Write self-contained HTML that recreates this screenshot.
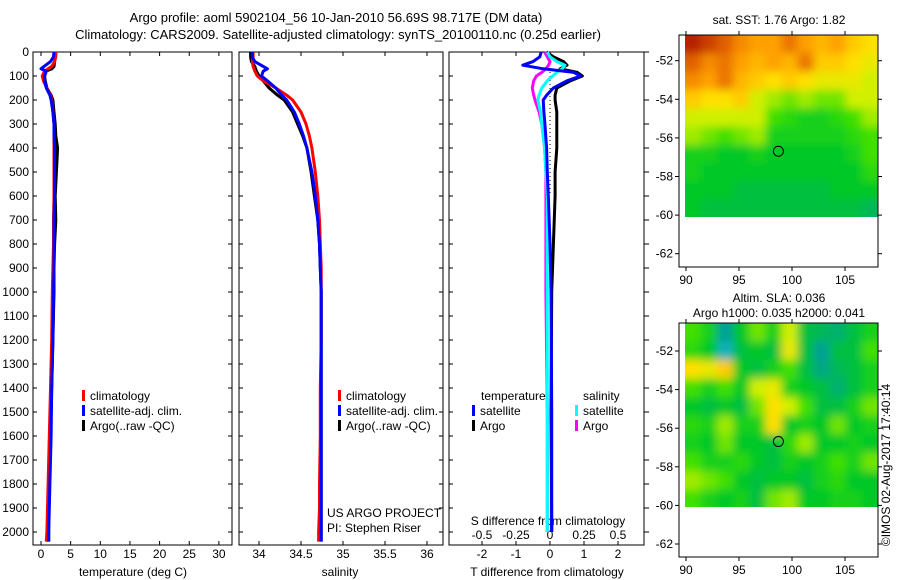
<!DOCTYPE html>
<html><head><meta charset="utf-8"><style>
body{margin:0;background:#fff;}
svg{display:block;font-family:"Liberation Sans",sans-serif;}
</style></head><body>
<svg id="c" width="900" height="580" viewBox="0 0 900 580">
<defs>
<filter id="blur" x="-0.2" y="-0.2" width="1.4" height="1.4"><feGaussianBlur stdDeviation="4.5"/></filter>
<clipPath id="clipSst"><rect x="685" y="35" width="193" height="182"/></clipPath>
<clipPath id="clipSla"><rect x="685" y="323" width="193" height="184"/></clipPath>
</defs>
</svg>
<script>
// ---- data ----
const depthsP = [0,20,40,60,70,80,100,120,150,180,200,250,300,350,400,500,600,700,800,900,1000,1200,1400,1600,1800,1900,2000,2040];
const tempClim = [2.5,2.5,2.3,1.8,1.2,0.6,0.2,0.4,1.0,1.6,1.8,2.0,2.2,2.2,2.2,2.2,2.2,2.1,2.1,2.0,1.9,1.8,1.6,1.4,1.2,1.1,1.0,0.9];
const tempSat = [2.2,2.1,1.6,0.5,0.0,0.9,0.6,0.6,0.9,1.5,1.7,2.0,2.2,2.2,2.3,2.3,2.3,2.2,2.2,2.2,2.1,2.0,1.8,1.7,1.5,1.4,1.3,1.3];
const tempArgo = [2.5,2.4,2.3,2.2,1.8,0.8,0.6,0.7,1.0,1.7,2.0,2.2,2.4,2.5,2.8,2.6,2.4,2.5,2.3,2.2,2.2,2.0,1.8,1.6,1.4,1.3,1.3,1.3];
const salClim = [33.93,33.93,33.92,33.93,33.94,33.95,33.98,34.05,34.2,34.33,34.4,34.5,34.56,34.6,34.63,34.67,34.7,34.72,34.73,34.74,34.74,34.74,34.73,34.73,34.72,34.72,34.71,34.71];
const salSat = [33.92,33.92,33.95,34.05,34.1,34.05,34.03,34.1,34.2,34.27,34.33,34.42,34.48,34.53,34.57,34.63,34.67,34.7,34.72,34.73,34.74,34.74,34.74,34.74,34.74,34.74,34.74,34.74];
const salArgo = [33.9,33.9,33.91,33.95,33.96,33.97,34.0,34.05,34.12,34.22,34.3,34.4,34.46,34.52,34.57,34.62,34.66,34.7,34.72,34.73,34.74,34.74,34.74,34.74,34.74,34.74,34.74,34.74];
const depthsD = [0,20,40,55,70,85,100,120,150,180,200,250,300,400,500,600,800,1000,1500,2000];
const tDiffSat = [-0.26,-0.3,-0.5,-0.8,-0.2,0.7,0.9,0.5,0.1,-0.1,-0.2,-0.18,-0.15,-0.1,-0.08,-0.05,0.0,0.03,0.05,0.05];
const tDiffArgo = [-0.1,0.1,0.4,0.5,0.3,0.8,0.95,0.6,0.2,0.15,0.15,0.2,0.2,0.2,0.15,0.15,0.1,0.05,0.03,0.05];
const sDiffSat = [-0.02,0.0,0.05,0.11,0.09,0.05,0.02,-0.02,-0.06,-0.08,-0.09,-0.07,-0.06,-0.04,-0.03,-0.02,-0.02,-0.02,-0.02,-0.02];
const sDiffArgo = [-0.04,-0.02,0.0,-0.01,-0.03,-0.06,-0.1,-0.12,-0.13,-0.12,-0.11,-0.08,-0.06,-0.04,-0.03,-0.03,-0.03,-0.03,-0.02,-0.02];
const depthTicks = [0,100,200,300,400,500,600,700,800,900,1000,1100,1200,1300,1400,1500,1600,1700,1800,1900,2000];
const tempTicks = [0,5,10,15,20,25,30];
const salTicks = [34,34.5,35,35.5,36];
const salTickLabels = ["34","34.5","35","35.5","36"];
const tdTicks = [-2,-1,0,1,2];
const sdTicks = [-0.5,-0.25,0,0.25,0.5];
const sdTickLabels = ["-0.5","-0.25","0","0.25","0.5"];
const latTicks = [-52,-54,-56,-58,-60,-62];
const lonTicks = [90,95,100,105];
const sstGrid = [
[.95,.9,.85,.75,.7,.7,.8,.7,.65,.7,.6,.55],
[.85,.75,.8,.7,.65,.7,.65,.8,.6,.6,.55,.5],
[.75,.7,.8,.65,.6,.55,.6,.55,.5,.5,.5,.45],
[.6,.55,.55,.6,.45,.4,.35,.4,.35,.35,.45,.45],
[.45,.45,.45,.45,.45,.3,.25,.2,.2,.25,.3,.4],
[.4,.35,.3,.35,.4,.2,.2,.2,.2,.2,.25,.3],
[.2,.2,.15,.15,.2,.15,.15,.15,.15,.15,.2,.3],
[.2,.15,.15,.15,.15,.15,.15,.15,.15,.15,.15,.25],
[.15,.15,.15,.1,.1,.1,.1,.1,.1,.15,.15,.15],
[.15,.1,.1,.1,.1,.1,.1,.1,.1,.1,.1,.05]];
const slaGrid = [
[.3,.2,-.1,.15,.35,.2,.45,.1,.05,0,.1,.2],
[.25,.15,-.15,.1,.15,.1,.5,.1,-.1,.1,.1,.3],
[.55,.5,.6,.15,.1,.2,.3,.1,-.05,.05,.1,.2],
[.3,.2,.3,.15,.45,.5,.2,.15,.1,0,.1,.2],
[.15,.1,.15,.1,.35,.55,.45,.3,.1,.1,.2,.35],
[.25,.2,.4,.2,.2,.55,.15,.2,.15,.35,.15,.2],
[.2,.15,.35,.15,.15,.1,.25,.4,.15,.15,.2,.15],
[.3,.2,.2,.25,.15,.1,.2,.15,.2,.3,.2,.35],
[.4,.35,.3,.15,.1,.15,.15,.1,.2,.25,.15,.15],
[.3,.2,.15,.2,.1,.35,.4,.15,.15,.2,.2,.15]];
const argoLon = 98.717, argoLat = -56.69;

const NS="http://www.w3.org/2000/svg", svg=document.getElementById('c');
function mk(tag, at, parent){const e=document.createElementNS(NS,tag);for(const k in at)e.setAttribute(k,at[k]);(parent||svg).appendChild(e);return e;}
function txt(s,x,y,anchor,size){const t=mk('text',{x:x,y:y,'text-anchor':anchor||'middle','font-size':size||12,fill:'#000'});t.textContent=s;return t;}

const Y0=52, YS=0.24; const yD=d=>Y0+d*YS;
const xT=v=>41+v*5.93, xS=v=>259+(v-34)*84, xTD=v=>550+v*34, xSD=v=>550+v*136;
const panels=[{l:33,r:232,n:'temperature-panel'},{l:239,r:443,n:'salinity-panel'},{l:449,r:644,n:'difference-panel'}];
const BOT=545;

let t;
t=txt("Argo profile: aoml 5902104_56 10-Jan-2010 56.69S 98.717E (DM data)",336,22,'middle',13);

t=txt("Climatology: CARS2009. Satellite-adjusted climatology: synTS_20100110.nc (0.25d earlier)",338,39,'middle',13);


panels.forEach((p,i)=>{
  const g=mk('g',{});
  
  
  const r=mk('rect',{x:p.l,y:Y0,width:p.r-p.l,height:BOT-Y0,fill:'none',stroke:'#000','stroke-width':1},g);
  
  
  depthTicks.forEach(d=>{
    mk('line',{x1:p.l,x2:p.l+4,y1:yD(d),y2:yD(d),stroke:'#000'},g);
    if(i<2) mk('line',{x1:p.r,x2:p.r-4,y1:yD(d),y2:yD(d),stroke:'#000'},g);
    else mk('line',{x1:p.r,x2:p.r+5,y1:yD(d),y2:yD(d),stroke:'#000'},g);
  });
});
depthTicks.forEach(d=>{const e=txt(String(d),29,yD(d)+4,'end',12);
  });

function xticks(ticks,labels,fx,ylab){
  ticks.forEach((v,k)=>{
    const x=fx(v);
    mk('line',{x1:x,x2:x,y1:BOT,y2:BOT-4,stroke:'#000'});
    mk('line',{x1:x,x2:x,y1:Y0,y2:Y0+4,stroke:'#000'});
    const e=txt(labels[k],x,ylab,'middle',12);
    
    
  });
}
xticks(tempTicks,tempTicks.map(String),xT,558);
xticks(salTicks,salTickLabels,xS,558);
xticks(tdTicks,tdTicks.map(String),xTD,558);
sdTicks.forEach((v,k)=>{const e=txt(sdTickLabels[k],xSD(v),539,'middle',12);
  });
[["temperature (deg C)",133,'x-axis-title-temperature'],["salinity",340,'x-axis-title-salinity'],["T difference from climatology",547,'x-axis-title-t-diff']].forEach(a=>{
  const e=txt(a[0],a[1],576,'middle',12);});
t=txt("S difference from climatology",548,525,'middle',12);


function series(vals,depths,fx,color,w,name){
  const pts=vals.map((v,k)=>fx(v).toFixed(1)+','+yD(depths[k]).toFixed(1)).join(' ');
  const e=mk('polyline',{points:pts,fill:'none',stroke:color,'stroke-width':w,'stroke-linejoin':'round'});
  
  
}
const z=mk('line',{x1:xTD(0),x2:xTD(0),y1:Y0,y2:yD(600),stroke:'#000','stroke-width':1,'stroke-dasharray':'1,3'});


series(tempArgo,depthsP,xT,'#000',3,'temp-argo-line');
series(tempClim,depthsP,xT,'#f00',3,'temp-climatology-line');
series(tempSat,depthsP,xT,'#00f',3,'temp-satellite-line');
series(salArgo,depthsP,xS,'#000',3,'sal-argo-line');
series(salClim,depthsP,xS,'#f00',3,'sal-climatology-line');
series(salSat,depthsP,xS,'#00f',3,'sal-satellite-line');
series(tDiffArgo,depthsD,xTD,'#000',3,'t-diff-argo-line');
series(sDiffArgo,depthsD,xSD,'#f0f',3,'s-diff-argo-line');
series(sDiffSat,depthsD,xSD,'#0ff',3,'s-diff-satellite-line');
series(tDiffSat,depthsD,xTD,'#00f',3,'t-diff-satellite-line');

function legendEntry(x,y,color,label,name){
  const g=mk('g',{});
  
  
  mk('rect',{x:x,y:y-9,width:3,height:11,fill:color},g);
  const e=mk('text',{x:x+8,y:y+1,'font-size':12},g);e.textContent=label;
}
[82,338].forEach(x=>{
  legendEntry(x,399,'#f00','climatology','legend-climatology');
  legendEntry(x,414,'#00f','satellite-adj. clim.','legend-satellite-adj');
  legendEntry(x,429,'#000','Argo(..raw -QC)','legend-argo');
});
t=txt("temperature",481,400,'start',12);
t=txt("salinity",583,400,'start',12);
legendEntry(472,414,'#00f','satellite','legend-t-satellite');
legendEntry(472,429,'#000','Argo','legend-t-argo');
legendEntry(575,414,'#0ff','satellite','legend-s-satellite');
legendEntry(575,429,'#f0f','Argo','legend-s-argo');
t=txt("US ARGO PROJECT",327,517,'start',12);
t=txt("PI: Stephen Riser",327,532,'start',12);

const cstops=[[-0.2,[32,192,224]],[-0.1,[0,160,150]],[0,[0,176,112]],[0.15,[0,200,40]],[0.3,[64,224,0]],[0.45,[208,240,0]],[0.55,[255,224,0]],[0.7,[255,160,0]],[0.85,[224,96,0]],[1,[160,0,0]]];
function cmap(v){
  if(v<=cstops[0][0])return 'rgb('+cstops[0][1]+')';
  for(let i=1;i<cstops.length;i++){if(v<=cstops[i][0]){const a=cstops[i-1],b=cstops[i],f=(v-a[0])/(b[0]-a[0]);
    return 'rgb('+a[1].map((c,j)=>Math.round(c+(b[1][j]-c)*f)).join(',')+')';}}
  return 'rgb('+cstops[cstops.length-1][1]+')';
}
function map(cfg){
  const g=mk('g',{});
  
  
  const fLon=v=>686+(v-90)*10.6, fLat=v=>cfg.y52+(-52-v)*19.3;
  const L=685, R=878, T=cfg.top, B=fLat(-60.15);
  const clipG=mk('g',{'clip-path':'url(#'+cfg.clip+')'},g);
  const cg=mk('g',{filter:'url(#blur)'},clipG);
  
  
  const rows=cfg.grid.length, cols=cfg.grid[0].length;
  const cw=(R-L)/cols, ch=(B-T)/rows;
  // edge cells repeated outside the frame so the blur does not fade at borders
  for(let ri=-2;ri<rows+2;ri++){for(let ci=-2;ci<cols+2;ci++){
    const v=cfg.grid[Math.min(rows-1,Math.max(0,ri))][Math.min(cols-1,Math.max(0,ci))];
    const c=mk('rect',{x:(L+ci*cw).toFixed(2),y:(T+ri*ch).toFixed(2),width:(cw+0.6).toFixed(2),height:(ch+0.6).toFixed(2),fill:cmap(v)},cg);
    
    
  }}
  mk('rect',{x:679,y:T,width:199,height:cfg.bot-T,fill:'none',stroke:'#000'},g);
  latTicks.forEach(v=>{const y=fLat(v);mk('line',{x1:679,x2:675,y1:y,y2:y,stroke:'#000'},g);mk('line',{x1:878,x2:882,y1:y,y2:y,stroke:'#000'},g);
    const e=mk('text',{x:673,y:y+4,'text-anchor':'end','font-size':12},g);e.textContent=String(v);});
  lonTicks.forEach(v=>{const x=fLon(v);mk('line',{x1:x,x2:x,y1:cfg.bot,y2:cfg.bot+4,stroke:'#000'},g);mk('line',{x1:x,x2:x,y1:T,y2:T-4,stroke:'#000'},g);
    const e=mk('text',{x:x,y:cfg.bot+17,'text-anchor':'middle','font-size':12},g);e.textContent=String(v);});
  const c=mk('circle',{cx:fLon(argoLon),cy:fLat(argoLat),r:5,fill:'none',stroke:'#000','stroke-width':1},g);
  
  
}
map({name:'sst-map',grid:sstGrid,top:35,bot:267,y52:60.7,clip:'clipSst'});
map({name:'sla-map',grid:slaGrid,top:323,bot:557,y52:351,clip:'clipSla'});
t=txt("sat. SST: 1.76 Argo: 1.82",779,24,'middle',12);
t=txt("Altim. SLA: 0.036",779,302,'middle',12);
t=txt("Argo h1000: 0.035 h2000: 0.041",779,317,'middle',12);
t=mk('text',{x:0,y:0,'font-size':12,'text-anchor':'middle',transform:'translate(890,465) rotate(-90)'});
t.textContent="©IMOS 02-Aug-2017 17:40:14";


</script>
</body></html>
